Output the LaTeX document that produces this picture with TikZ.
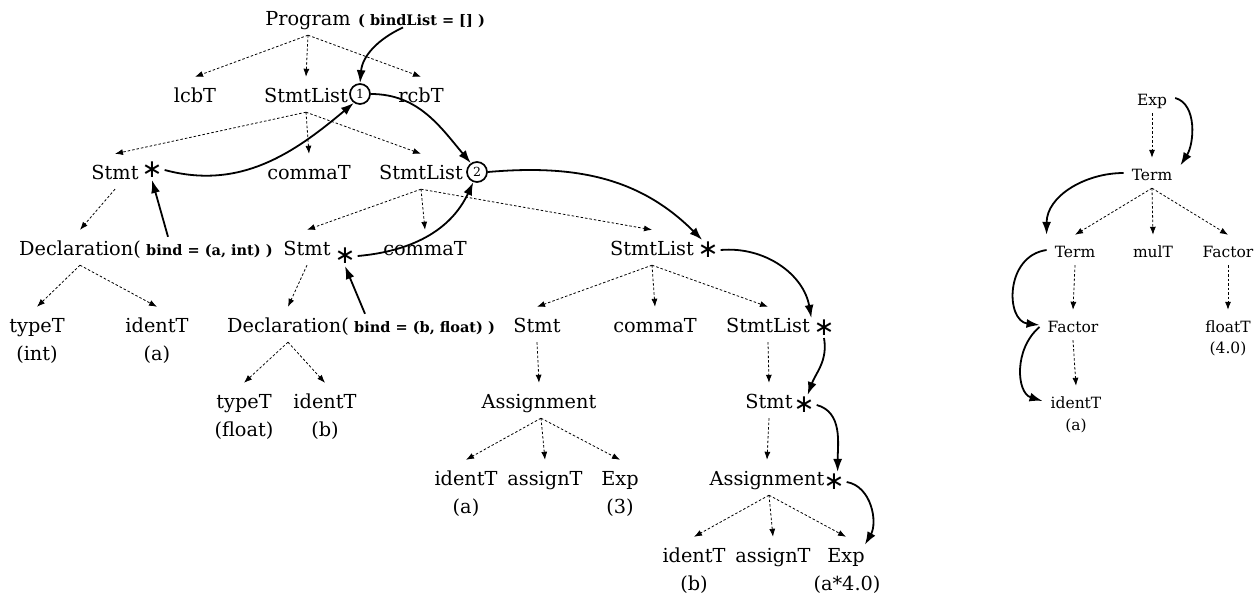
\documentclass[tikz,border=0pt]{standalone}
\usepackage{fontspec}
\setmainfont{DejaVu Serif}
\newfontfamily\symfont{DejaVu Sans}
\usetikzlibrary{arrows.meta}

\newcommand\mainsz{\fontsize{19.3}{23}\selectfont}
\newcommand\boldsz{\fontsize{14.5}{18}\selectfont\bfseries}
\newcommand\rightsz{\fontsize{15.5}{18}\selectfont}
\newcommand\numsz{\fontsize{12.5}{12.5}\selectfont}
\newcommand\astsz{\fontsize{25}{25}\selectfont\symfont}

\tikzset{
  lbl/.style={inner xsep=0pt, inner ysep=0pt, anchor=base, text height=25pt, text depth=10pt, font=\mainsz},
  sub/.style={inner sep=0pt, anchor=base, font=\mainsz},
  bindlbl/.style={inner sep=0pt, anchor=base west, font=\boldsz},
  rlbl/.style={inner xsep=8pt, inner ysep=0pt, anchor=base, text height=22pt, text depth=8pt, font=\rightsz},
  rsub/.style={inner sep=0pt, anchor=base, font=\rightsz},
  astnode/.style={inner sep=2pt, anchor=center, font=\astsz},
  numcirc/.style={circle, draw, line width=1.7pt, inner sep=0pt, minimum size=20pt, font=\numsz},
  dep/.style={-{Latex[length=8pt,width=6pt]}, dash pattern=on 2.5pt off 2pt, line width=0.8pt},
  bnd/.style={-{Latex[length=13pt,width=9pt]}, line width=1.8pt},
}

\begin{document}
\begin{tikzpicture}[x=1pt,y=-1pt]
\useasboundingbox (0,0) rectangle (1256,597);

% ---- parse tree of the program ----
\node[lbl] (prog) at (308,25) {Program};
\node[bindlbl] (bl) at (358,25) {( bindList = [] )};

\node[lbl] (lcb) at (195,102) {lcbT};
\node[lbl] (sl1) at (306,102) {StmtList};
\node[numcirc] (c1) at (360,94) {1};
\node[lbl] (rcb) at (421,102) {rcbT};

\node[lbl] (st1) at (115,179) {Stmt};
\node[astnode] (a1) at (152,170) {∗};
\node[lbl] (cm1) at (309,179) {commaT};
\node[lbl] (sl2) at (421,179) {StmtList};
\node[numcirc] (c2) at (477,172) {2};

\node[lbl] (dec1) at (80,255) {Declaration(};
\node[bindlbl] (b1) at (146,255) {bind = (a, int) )};
\node[lbl] (st2) at (307,255) {Stmt};
\node[astnode] (a2) at (345,256) {∗};
\node[lbl] (cm2) at (425,255) {commaT};
\node[lbl] (sl3) at (652,255) {StmtList};
\node[astnode] (a3) at (708,250) {∗};

\node[lbl] (ty1) at (37,332) {typeT};
\node[sub] at (37,360) {(int)};
\node[lbl] (id1) at (157,332) {identT};
\node[sub] at (157,360) {(a)};
\node[lbl] (dec2) at (288,332) {Declaration(};
\node[bindlbl] (b2) at (354,332) {bind = (b, float) )};
\node[lbl] (st3) at (537,332) {Stmt};
\node[lbl] (cm3) at (655,332) {commaT};
\node[lbl] (sl4) at (768,332) {StmtList};
\node[astnode] (a4) at (824,328) {∗};

\node[lbl] (ty2) at (244,408) {typeT};
\node[sub] at (244,436) {(float)};
\node[lbl] (id2) at (325,408) {identT};
\node[sub] at (325,436) {(b)};
\node[lbl] (asg1) at (539,408) {Assignment};
\node[lbl] (st4) at (769,408) {Stmt};
\node[astnode] (a5) at (804,405) {∗};

\node[lbl] (id3) at (466,485) {identT};
\node[sub] at (466,513) {(a)};
\node[lbl] (as1) at (545,485) {assignT};
\node[lbl] (ex1) at (620,485) {Exp};
\node[sub] at (620,513) {(3)};
\node[lbl] (asg2) at (767,485) {Assignment};
\node[astnode] (a6) at (834,482) {∗};

\node[lbl] (id4) at (694,562) {identT};
\node[sub] at (694,590) {(b)};
\node[lbl] (as2) at (773,562) {assignT};
\node[lbl] (ex2) at (846,562) {Exp};
\node[sub] at (847,590) {(a*4.0)};

% derivation edges
\foreach \c in {lcb,sl1,rcb} \draw[dep] (prog.south) -- (\c.north);
\foreach \c in {st1,cm1,sl2} \draw[dep] (sl1.south) -- (\c.north);
\foreach \c in {st2,cm2,sl3} \draw[dep] (sl2.south) -- (\c.north);
\draw[dep] (st1.south) -- (dec1.north);
\foreach \c in {ty1,id1} \draw[dep] (dec1.south) -- (\c.north);
\draw[dep] (st2.south) -- (dec2.north);
\foreach \c in {ty2,id2} \draw[dep] (dec2.south) -- (\c.north);
\foreach \c in {st3,cm3,sl4} \draw[dep] (sl3.south) -- (\c.north);
\draw[dep] (st3.south) -- (asg1.north);
\draw[dep] (sl4.south) -- (st4.north);
\foreach \c in {id3,as1,ex1} \draw[dep] ([xshift=2pt]asg1.south) -- (\c.north);
\draw[dep] (st4.south) -- (asg2.north);
\foreach \c in {id4,as2,ex2} \draw[dep] ([xshift=2pt]asg2.south) -- (\c.north);

% flow of the binding list
\draw[bnd] ([xshift=45pt]bl.south west) to[out=205, in=85] (c1.north);
\draw[bnd] (a1.east) to[out=-15, in=220] (c1.235);
\draw[bnd] ([xshift=22pt,yshift=7pt]b1.north west) -- (a1.south);
\draw[bnd] (c1.east) to[out=0, in=130] (c2.125);
\draw[bnd] (a2.east) to[out=5, in=245] (c2.250);
\draw[bnd] ([xshift=11pt,yshift=7pt]b2.north west) -- (a2.south);
\draw[bnd] (c2.east) to[out=5, in=135] (a3.120);
\draw[bnd] (a3.east) to[out=5, in=100] (a4.north west);
\draw[bnd] (a4.south) to[out=-80, in=70] (a5.70);
\draw[bnd] (a5.east) to[out=-15, in=90] (a6.70);
\draw[bnd] (a6.east) to[out=-10, in=60] ([yshift=-8pt]ex2.north east);

% ---- expression subtree ----
\node[rlbl] (rexp) at (1152,105) {Exp};
\node[rlbl] (rterm) at (1152,180) {Term};
\node[rlbl] (rterm2) at (1075,257) {Term};
\node[rlbl] (rmul) at (1153,257) {mulT};
\node[rlbl] (rfac2) at (1228,257) {Factor};
\node[rlbl] (rfac) at (1073,332) {Factor};
\node[rlbl] (rfloat) at (1228,332) {floatT};
\node[rsub] at (1228,353) {(4.0)};
\node[rlbl] (rid) at (1076,408) {identT};
\node[rsub] at (1076,430) {(a)};

\draw[dep] (rexp.south) -- (rterm.north);
\foreach \c in {rterm2,rmul,rfac2} \draw[dep] (rterm.south) -- (\c.north);
\draw[dep] (rterm2.south) -- (rfac.north);
\draw[dep] (rfac2.south) -- (rfloat.north);
\draw[dep] (rfac.south) -- (rid.north);

\draw[bnd] (rexp.east) .. controls +(22,6) and +(14,-22) .. (rterm.15);
\draw[bnd] (rterm.west) to[out=180, in=90] (rterm2.north west);
\draw[bnd] (rterm2.west) .. controls +(-42,6) and +(-34,-4) .. (rfac.west);
\draw[bnd] ([yshift=-2pt]rfac.west) .. controls +(-26,22) and +(-26,-8) .. (rid.west);
\end{tikzpicture}
\end{document}
